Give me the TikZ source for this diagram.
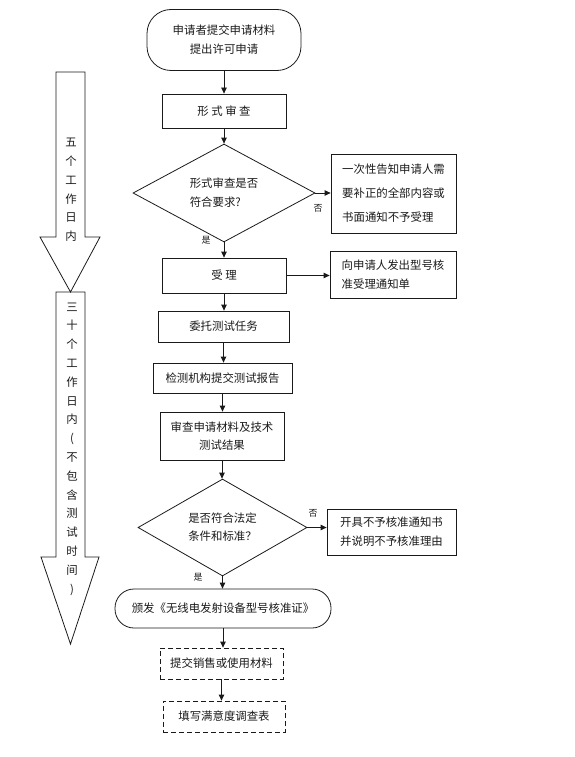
\documentclass[tikz,border=0pt]{standalone}
\usepackage{fontspec}
\setmainfont{Noto Sans CJK SC}
\usepackage{xcolor}
\usetikzlibrary{shapes.geometric,arrows.meta}
\definecolor{vblack}{HTML}{1a1a1a}

\tikzset{
	flowbox/.style={draw=vblack, line width=0.8pt, align=center, inner sep=0pt},
	termbox/.style={flowbox, rounded corners=24pt},
	issuebox/.style={flowbox, rounded corners=19pt},
	notebox/.style={flowbox, align=left},
	dashbox/.style={flowbox, dash pattern=on 5pt off 3pt},
	decision/.style={flowbox, diamond, align=left},
	yesno/.style={font=\fontsize{9pt}{10pt}\selectfont, inner sep=0pt},
	vtext/.style={align=center, inner sep=0pt, font=\fontsize{11.4pt}{18.8pt}\selectfont},
	flowarrow/.style={draw=vblack, line width=0.8pt, -{Triangle[length=6pt,width=5.5pt]}},
	bigarrow/.style={draw=vblack, line width=0.8pt, line join=miter}
}

\begin{document}
\begin{tikzpicture}[x=1pt, y=-1pt, font=\fontsize{11.4pt}{19pt}\selectfont, text=vblack]
		\useasboundingbox (0,0) rectangle (575,757);
		\draw[bigarrow] (56,72) -- (85,72) -- (85,237) -- (100,237) -- (70.5,292) -- (40,237) -- (56,237) -- cycle;
		\draw[bigarrow] (56,292) -- (85,292) -- (85,557) -- (99,557) -- (70.5,644) -- (41,557) -- (56,557) -- cycle;
		\node[vtext] (days5) at (71,190) {五\\个\\工\\作\\日\\内};
		\node[vtext] (days30) at (72,449) {三\\十\\个\\工\\作\\日\\内\\(\\不\\包\\含\\测\\试\\时\\间\\)};
		\node[termbox, minimum width=154pt, minimum height=61pt] (apply) at (224,40) {申请者提交申请材料\\提出许可申请};
		\node[flowbox, minimum width=124pt, minimum height=34pt] (check) at (224,111) {形 式 审 查};
		\node[decision, minimum width=182pt, minimum height=86pt] (form) at (224,193) {形式审查是否\\符合要求?};
		\node[notebox, minimum width=125pt, minimum height=79pt, font=\fontsize{11.4pt}{24pt}\selectfont] (notify) at (393.5,193.5) {一次性告知申请人需\\要补正的全部内容或\\书面通知不予受理};
		\node[flowbox, minimum width=124pt, minimum height=35pt] (accept) at (224,275.5) {受 理};
		\node[notebox, minimum width=126pt, minimum height=47pt] (receipt) at (393,274.5) {向申请人发出型号核\\准受理通知单};
		\node[flowbox, minimum width=131pt, minimum height=31pt] (entrust) at (223.5,326.5) {委托测试任务};
		\node[flowbox, minimum width=139pt, minimum height=30pt] (report) at (222.5,378) {检测机构提交测试报告};
		\node[flowbox, minimum width=124pt, minimum height=48pt, font=\fontsize{11.4pt}{18pt}\selectfont] (review) at (222,436) {审查申请材料及技术\\测试结果};
		\node[decision, minimum width=169pt, minimum height=93pt, font=\fontsize{11.4pt}{18pt}\selectfont] (legal) at (222.5,527.5) {是否符合法定\\条件和标准？};
		\node[notebox, minimum width=129pt, minimum height=46pt] (refuse) at (391.5,532) {开具不予核准通知书\\并说明不予核准理由};
		\node[issuebox, minimum width=216pt, minimum height=39pt] (issue) at (223,608.5) {颁发《无线电发射设备型号核准证》};
		\node[dashbox, minimum width=123pt, minimum height=31pt] (sales) at (221.5,663.5) {提交销售或使用材料};
		\node[dashbox, minimum width=122pt, minimum height=31pt] (survey) at (224,716.5) {填写满意度调查表};
		\node[yesno] (no1) at (318,208) {否};
		\node[yesno] (yes1) at (206,240) {是};
		\node[yesno] (no2) at (313,513) {否};
		\node[yesno] (yes2) at (198,577) {是};
		\draw[flowarrow] (apply.south) -- (apply.south |- check.north);
		\draw[flowarrow] (check.south) -- (check.south |- form.north);
		\draw[flowarrow] (form.east) -- (form.east -| notify.west);
		\draw[flowarrow] (form.south) -- (form.south |- accept.north);
		\draw[flowarrow] (accept.east) -- (accept.east -| receipt.west);
		\draw[flowarrow] (accept.south) -- (accept.south |- entrust.north);
		\draw[flowarrow] (entrust.south) -- (entrust.south |- report.north);
		\draw[flowarrow] (report.south) -- (report.south |- review.north);
		\draw[flowarrow] (review.south) -- (review.south |- legal.north);
		\draw[flowarrow] (legal.east) -- (legal.east -| refuse.west);
		\draw[flowarrow] (legal.south) -- (legal.south |- issue.north);
		\draw[flowarrow] (issue.south) -- (issue.south |- sales.north);
		\draw[flowarrow] (sales.south) -- (sales.south |- survey.north);
	\end{tikzpicture}
\end{document}
